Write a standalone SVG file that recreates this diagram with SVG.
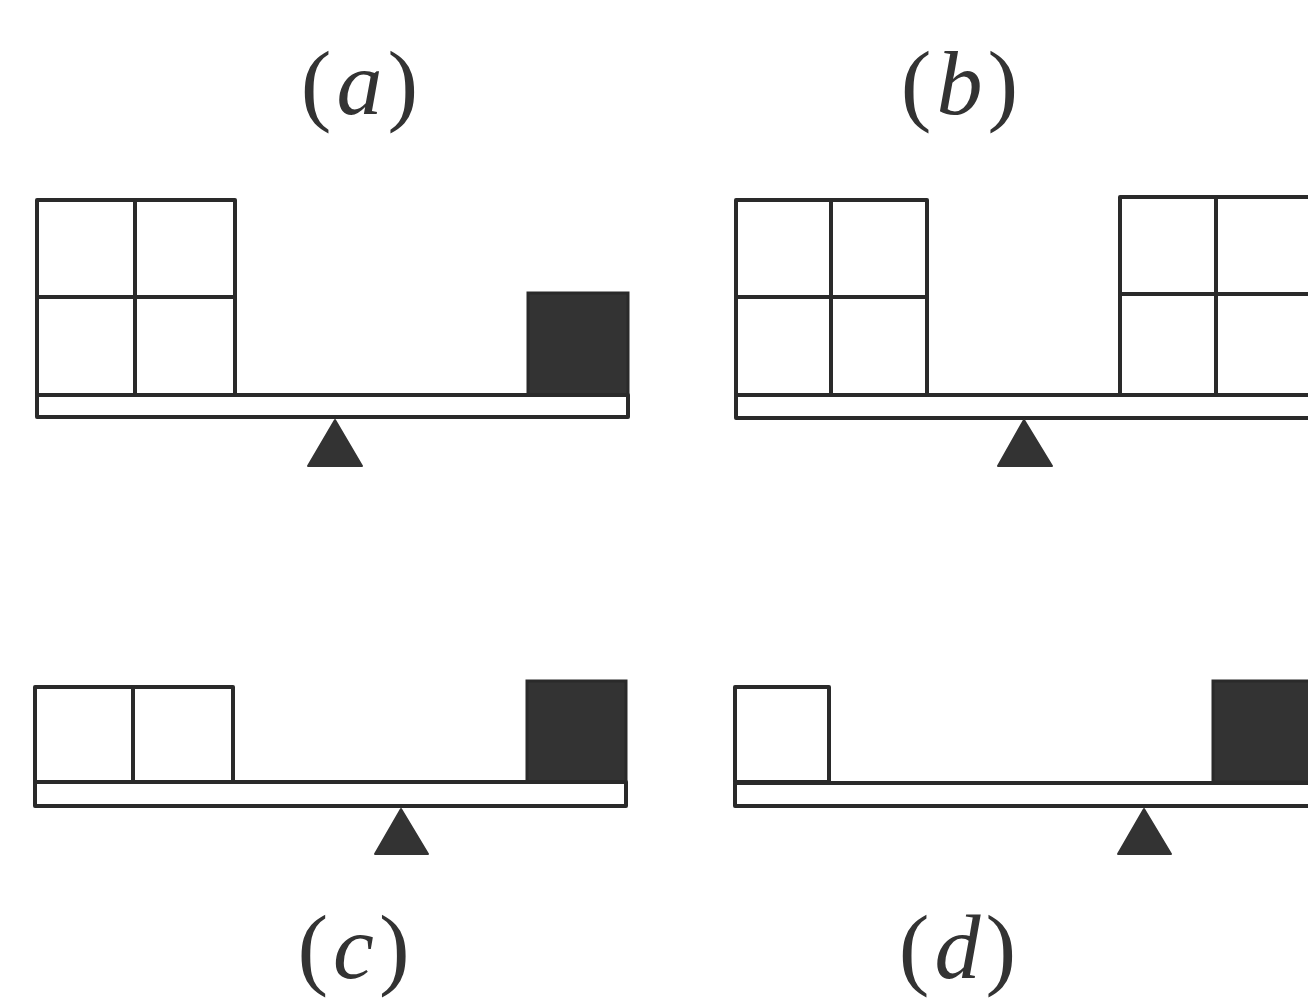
<svg xmlns="http://www.w3.org/2000/svg" width="1308" height="999" viewBox="0 0 1308 999">
<style>
.o{fill:#fff;stroke:#2a2a2a;stroke-width:4;stroke-linejoin:round}
.l{stroke:#2a2a2a;stroke-width:4;fill:none}
.k{fill:#333;stroke:#2a2a2a;stroke-width:3}
.t{fill:#333;stroke:#333;stroke-width:2;stroke-linejoin:round}
.lab{font-family:"Liberation Serif","Times New Roman",serif;font-size:92px;fill:#333;text-anchor:middle;letter-spacing:5px}
.i{font-style:italic}
</style>
<rect width="1308" height="999" fill="#fff"/>
<g id="panel-a">
<rect class="o" x="37" y="200" width="198" height="195"/>
<path class="l" d="M135 200V395M37 297H235"/>
<rect class="k" x="528" y="293" width="100" height="102"/>
<rect class="o" x="37" y="395" width="591" height="22"/>
<polygon class="t" points="335,420 308,466 362,466"/>
<text class="lab" x="362" y="114">(<tspan class="i">a</tspan>)</text>
</g>
<g id="panel-b">
<rect class="o" x="736" y="200" width="191" height="195"/>
<path class="l" d="M831 200V395M736 297H927"/>
<rect class="o" x="1120" y="197" width="192" height="198"/>
<path class="l" d="M1216 197V395M1120 294H1312"/>
<rect class="o" x="736" y="395" width="576" height="23"/>
<polygon class="t" points="1024,420 998,466 1052,466"/>
<text class="lab" x="962" y="114">(<tspan class="i">b</tspan>)</text>
</g>
<g id="panel-c">
<rect class="o" x="35" y="687" width="198" height="95"/>
<path class="l" d="M133 687V782"/>
<rect class="k" x="527" y="681" width="99" height="101"/>
<rect class="o" x="35" y="782" width="591" height="24"/>
<polygon class="t" points="401,809 375,854 428,854"/>
<text class="lab" x="356" y="978">(<tspan class="i">c</tspan>)</text>
</g>
<g id="panel-d">
<rect class="o" x="735" y="687" width="94" height="95"/>
<rect class="k" x="1213" y="681" width="100" height="101"/>
<rect class="o" x="735" y="783" width="577" height="23"/>
<polygon class="t" points="1144,809 1118,854 1171,854"/>
<text class="lab" x="960" y="978">(<tspan class="i">d</tspan>)</text>
</g>
</svg>
